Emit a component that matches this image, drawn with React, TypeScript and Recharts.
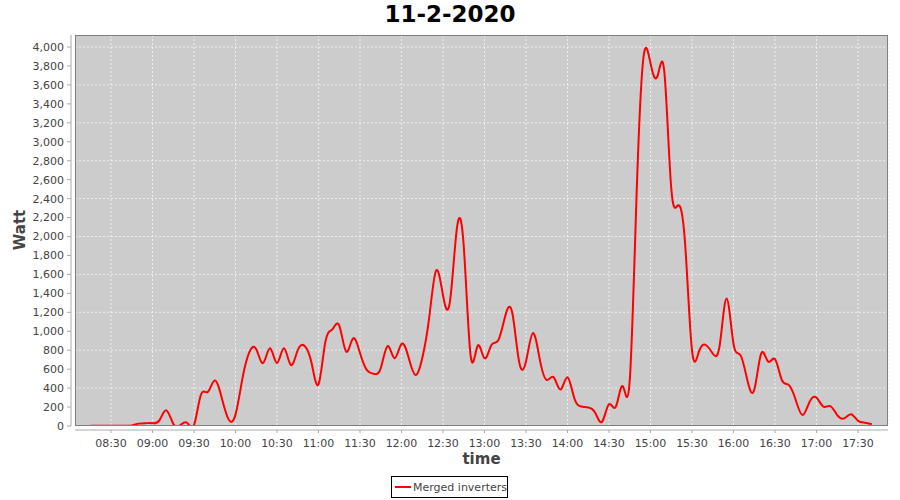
import React from 'react';
import { LineChart, Line, XAxis, YAxis, CartesianGrid } from 'recharts';

const times: string[] = [
  '08:15', '08:20', '08:25', '08:30', '08:35', '08:40', '08:45', '08:50', '08:55',
  '09:00', '09:05', '09:10', '09:15', '09:20', '09:25', '09:30', '09:35', '09:40', '09:45', '09:50', '09:55',
  '10:00', '10:05', '10:10', '10:15', '10:20', '10:25', '10:30', '10:35', '10:40', '10:45', '10:50', '10:55',
  '11:00', '11:05', '11:10', '11:15', '11:20', '11:25', '11:30', '11:35', '11:40', '11:45', '11:50', '11:55',
  '12:00', '12:05', '12:10', '12:15', '12:20', '12:25', '12:30', '12:35', '12:40', '12:45', '12:50', '12:55',
  '13:00', '13:05', '13:10', '13:15', '13:20', '13:25', '13:30', '13:35', '13:40', '13:45', '13:50', '13:55',
  '14:00', '14:05', '14:10', '14:15', '14:20', '14:25', '14:30', '14:35', '14:40', '14:45', '14:50', '14:55',
  '15:00', '15:05', '15:10', '15:15', '15:20', '15:25', '15:30', '15:35', '15:40', '15:45', '15:50', '15:55',
  '16:00', '16:05', '16:10', '16:15', '16:20', '16:25', '16:30', '16:35', '16:40', '16:45', '16:50', '16:55',
  '17:00', '17:05', '17:10', '17:15', '17:20', '17:25', '17:30', '17:35', '17:40',
];

const mergedInverters: number[] = [
  2, 2, 2, 2, 3, 3, 5, 25, 30,
  30, 60, 165, 25, 8, 35, 10, 330, 360, 480, 300, 70,
  120, 500, 780, 810, 665, 820, 665, 820, 645, 800, 845, 665,
  440, 890, 1020, 1060, 785, 925, 770, 590, 550, 610, 845, 715,
  865, 730, 540, 715, 1140, 1640, 1380, 1310, 2080, 1900, 740, 845,
  715, 855, 905, 1160, 1200, 680, 680, 980, 700, 485, 515, 385,
  515, 290, 205, 195, 140, 45, 230, 205, 420, 480, 2460, 3900,
  3830, 3690, 3740, 2510, 2330, 1930, 800, 785, 855, 765, 850, 1345,
  870, 750, 485, 380, 765, 680, 705, 485, 433, 275, 115, 255,
  300, 205, 210, 115, 80, 125, 55, 35, 18,
];

const xTickLabels: string[] = [
  '08:30', '09:00', '09:30', '10:00', '10:30', '11:00', '11:30', '12:00', '12:30', '13:00',
  '13:30', '14:00', '14:30', '15:00', '15:30', '16:00', '16:30', '17:00', '17:30',
];

const yTicks: number[] = [
  0, 200, 400, 600, 800, 1000, 1200, 1400, 1600, 1800, 2000,
  2200, 2400, 2600, 2800, 3000, 3200, 3400, 3600, 3800, 4000,
];

const toMin = (s: string) => {
  const [h, m] = s.split(':').map(Number);
  return h * 60 + m;
};
const fmt = (v: number) => {
  const h = Math.floor(v / 60);
  const m = Math.round(v % 60);
  return `${String(h).padStart(2, '0')}:${String(m).padStart(2, '0')}`;
};

const data = times.map((t, i) => ({ t: toMin(t), w: mergedInverters[i] }));
const xTicks = xTickLabels.map(toMin);

const FONT = '"DejaVu Sans", sans-serif';
const tickStyle = { fontFamily: FONT, fontSize: 11, fill: '#444444' };

export default function App() {
  return (
    <div style={{ position: 'absolute', left: 0, top: 0, width: 900, height: 500, background: '#ffffff' }}>
      <div
        style={{
          position: 'absolute', left: 0, top: 0, width: 900, textAlign: 'center',
          fontFamily: FONT, fontWeight: 'bold', fontSize: 23, lineHeight: '28px', color: '#000',
        }}
      >
        11-2-2020
      </div>
      <LineChart
        width={900}
        height={500}
        data={data}
        margin={{ top: 35, right: 12, bottom: 34, left: 0 }}
      >
        <CartesianGrid
          fill="#cccccc"
          fillOpacity={1}
          stroke="#eeeeee"
          strokeDasharray="2 2"
          strokeWidth={1}
        />
        <XAxis
          dataKey="t"
          type="number"
          domain={[483.98, 1071.7]}
          ticks={xTicks}
          tickFormatter={fmt}
          height={40}
          allowDataOverflow
          tick={tickStyle}
          tickSize={3}
          tickMargin={10}
          axisLine={{ stroke: '#aaaaaa', transform: 'translate(0,4)' }}
          tickLine={{ stroke: '#aaaaaa', transform: 'translate(0,4)' }}
        />
        <YAxis
          type="number"
          domain={[0, 4127]}
          ticks={yTicks}
          width={75}
          allowDataOverflow
          tickFormatter={(v: number) => v.toLocaleString('en-US')}
          tick={tickStyle}
          tickSize={4}
          tickMargin={7}
          axisLine={{ stroke: '#aaaaaa', transform: 'translate(-4,0)' }}
          tickLine={{ stroke: '#aaaaaa', transform: 'translate(-4,0)' }}
        />
        <Line
          type="natural"
          dataKey="w"
          stroke="#ff0000"
          strokeWidth={2}
          dot={false}
          isAnimationActive={false}
        />
      </LineChart>
      <div
        style={{
          position: 'absolute', left: 75, top: 35, width: 813, height: 391,
          boxSizing: 'border-box', border: '1px solid #808080', pointerEvents: 'none',
        }}
      />
      <div
        style={{
          position: 'absolute', left: 0, top: 449, width: 963, textAlign: 'center',
          fontFamily: FONT, fontWeight: 'bold', fontSize: 15, lineHeight: '20px', color: '#444444',
        }}
      >
        time
      </div>
      <div
        style={{
          position: 'absolute', left: 20, top: 230, width: 0, height: 0,
        }}
      >
        <div
          style={{
            position: 'absolute', left: -50, top: -10, width: 100, textAlign: 'center',
            transform: 'rotate(-90deg)', fontFamily: FONT, fontWeight: 'bold', fontSize: 15,
            lineHeight: '20px', color: '#444444',
          }}
        >
          Watt
        </div>
      </div>
      <div
        style={{
          position: 'absolute', left: 391, top: 476, width: 117, height: 22, boxSizing: 'border-box',
          border: '1px solid #000000', display: 'flex', alignItems: 'center', background: '#fff',
        }}
      >
        <svg width={22} height={20} style={{ display: 'block' }}>
          <line x1={3} y1={10} x2={19} y2={10} stroke="#ff0000" strokeWidth={2} />
        </svg>
        <span style={{ fontFamily: FONT, fontSize: 11, color: '#444444', whiteSpace: 'nowrap' }}>
          Merged inverters
        </span>
      </div>
    </div>
  );
}
